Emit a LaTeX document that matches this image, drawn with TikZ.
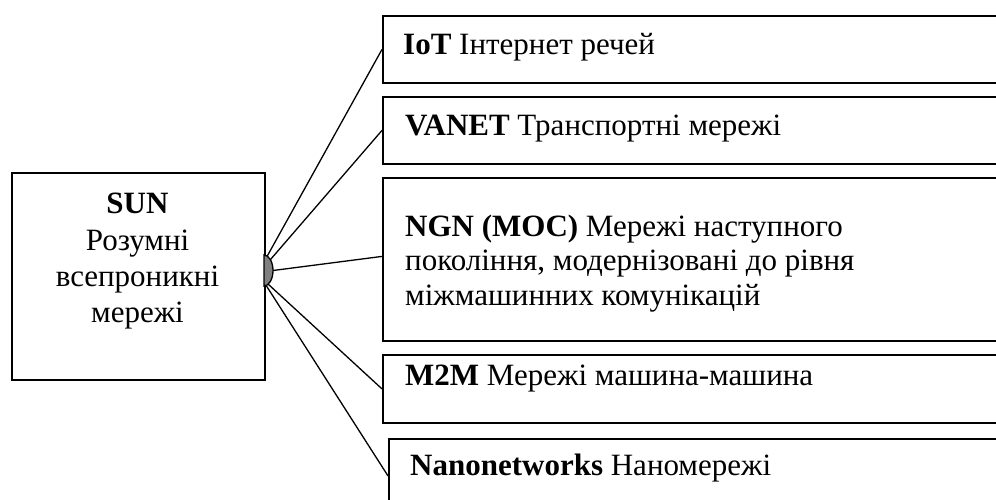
\documentclass[tikz,border=0pt]{standalone}
\usepackage{fontspec}
\setmainfont{Liberation Serif}
\begin{document}
\begin{tikzpicture}[x=1pt,y=-1pt,
  box/.style={draw, line width=1.8pt, rectangle, anchor=north west, inner sep=0pt, minimum width=700pt},
  lbl/.style={anchor=base west, inner sep=0pt, font=\fontsize{31}{36}\selectfont},
  clbl/.style={anchor=base, inner sep=0pt, font=\fontsize{31}{36}\selectfont},
  link/.style={line width=1.3pt}]
\clip (0,0) rectangle (996,499);
% central box
\node[draw, line width=1.8pt, rectangle, anchor=north west, inner sep=0pt,
      minimum width=253pt, minimum height=207pt] (sun) at (11,172) {};
\node[clbl] (s1) at (137.5,213) {\bfseries SUN};
\node[clbl] (s2) at (137.5,250) {Розумні};
\node[clbl] (s3) at (137.5,286.5) {всепроникні};
\node[clbl] (s4) at (137.5,322) {мережі};
% right boxes
\node[box, minimum height=67pt] (iot) at (382,15) {};
\node[box, minimum height=67pt] (vanet) at (382,96) {};
\node[box, minimum height=163pt] (ngn) at (382,177) {};
\node[box, minimum height=68pt] (m2m) at (382,354) {};
\node[box, minimum height=74pt] (nano) at (388,438) {};
\node[lbl] (t1) at (403,54) {\bfseries IoT\mdseries{} Інтернет речей};
\node[lbl] (t2) at (405,135) {\bfseries VANET\mdseries{} Транспортні мережі};
\node[lbl] (t3a) at (405,236) {\bfseries NGN (MOC)\mdseries{} Мережі наступного};
\node[lbl] (t3b) at (405,270.5) {покоління, модернізовані до рівня};
\node[lbl] (t3c) at (405,305) {міжмашинних комунікацій};
\node[lbl] (t4) at (405,385) {\bfseries M2M\mdseries{} Мережі машина-машина};
\node[lbl] (t5) at (410,475) {\bfseries Nanonetworks\mdseries{} Наномережі};
% hub
\coordinate (hub) at (264,270.5);
\coordinate (h1) at (267,256.5);
\coordinate (h2) at (270.5,259.5);
\coordinate (h3) at (273,270.5);
\coordinate (h4) at (268,284);
\coordinate (h5) at (266.5,286);
\draw[link] (h1) -- (iot.west);
\draw[link] (h2) -- (vanet.west);
\draw[link] (h3) -- ([yshift=3pt]ngn.west);
\draw[link] (h4) -- (m2m.west);
\draw[link] (h5) -- (nano.west);
\draw[line width=1.3pt, fill=black!50] (hub) ++(0,-15.5) arc[start angle=-90, end angle=90, x radius=9, y radius=15.5] -- cycle;
\end{tikzpicture}
\end{document}
